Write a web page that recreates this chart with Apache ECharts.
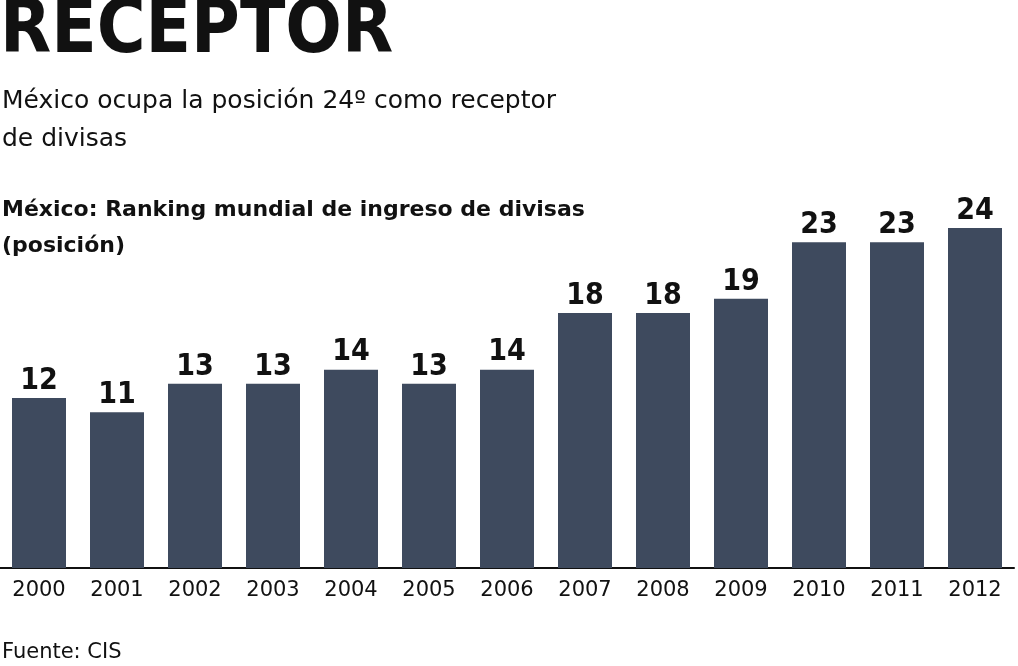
<!DOCTYPE html>
<html><head><meta charset="utf-8">
<script src="https://cdn.jsdelivr.net/npm/echarts@6/dist/echarts.min.js"></script>
<style>html,body{margin:0;padding:0;background:#fff}#c{width:1018px;height:666px}</style>
</head><body><div id="c"></div>
<script>
const categories = ['2000','2001','2002','2003','2004','2005','2006','2007','2008','2009','2010','2011','2012'];
const values = [12,11,13,13,14,13,14,18,18,19,23,23,24];
const title = 'RECEPTOR';
const subtitle = 'México ocupa la posición 24º como receptor\nde divisas';
const chartLabel = 'México: Ranking mundial de ingreso de divisas\n(posición)';
const source = 'Fuente: CIS';
const chart = echarts.init(document.getElementById('c'));
const F = '"DejaVu Sans Condensed","DejaVu Sans",sans-serif';
const W = '"DejaVu Sans",sans-serif';
chart.setOption({
  animation:false,
  graphic:[
    {type:'text',left:0,top:-4,style:{text:title,font:'bold 74px '+F,fill:'#111'}},
    {type:'text',left:2,top:82,style:{text:subtitle,font:'25px '+W,fill:'#111',lineHeight:38}},
    {type:'text',left:2,top:192,style:{text:chartLabel,font:'bold 22px '+W,fill:'#111',lineHeight:36}},
    {type:'text',left:2,top:642,style:{text:source,font:'21px '+W,fill:'#111'}}
  ],
  grid:{left:0,right:4,top:228,bottom:98},
  xAxis:{type:'category',data:categories,axisTick:{show:false},
    axisLine:{lineStyle:{color:'#111',width:2}},
    axisLabel:{color:'#111',fontSize:21,fontFamily:W,margin:12}},
  yAxis:{type:'value',min:0,max:24,show:false,splitLine:{show:false}},
  series:[{type:'bar',data:values,barWidth:54,itemStyle:{color:'#3e4a5e'},
    label:{show:true,position:'top',color:'#111',fontSize:30,fontWeight:'bold',fontFamily:F,distance:2}}]
});
</script></body></html>
